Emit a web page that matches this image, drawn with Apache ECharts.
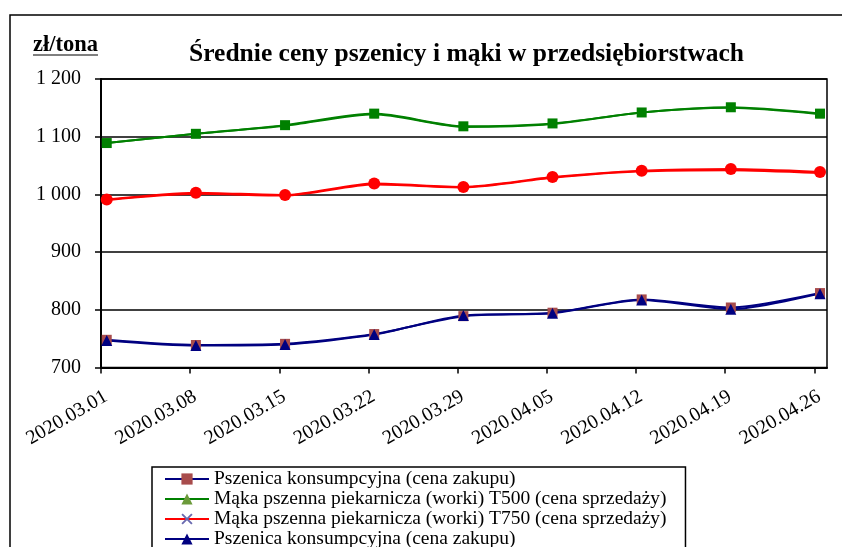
<!DOCTYPE html>
<html>
<head>
<meta charset="utf-8">
<script src="https://cdn.jsdelivr.net/npm/echarts@6/dist/echarts.min.js"></script>
<style>html,body{margin:0;padding:0;background:#fff;}#c{width:842px;height:547px;}</style>
</head>
<body>
<div id="c"></div>
<script>
// ---- data ----
const dates = ['2020.03.01','2020.03.08','2020.03.15','2020.03.22','2020.03.29','2020.04.05','2020.04.12','2020.04.19','2020.04.26'];
const yTicks = [700, 800, 900, 1000, 1100, 1200];
const pszenicaA = [748, 739, 741, 758, 789, 795, 818, 804, 829];
const makaT500A = [1089, 1105, 1119, 1139, 1117, 1122, 1142, 1150, 1139];
const makaT750A = [990, 1001, 998, 1017, 1012, 1029, 1040, 1042, 1037];
const pszenicaB = [747, 738, 740, 757, 790, 794, 817, 801, 828];
const makaT500B = [1089, 1105, 1120, 1140, 1118, 1123, 1142, 1151, 1140];
const makaT750B = [991, 1003, 999, 1019, 1013, 1030, 1041, 1044, 1039];

const nameP = 'Pszenica konsumpcyjna (cena zakupu)';
const name500 = 'Mąka pszenna piekarnicza (worki) T500 (cena sprzedaży)';
const name750 = 'Mąka pszenna piekarnicza (worki) T750 (cena sprzedaży)';

const DAY = 864e5;
const t0 = Date.parse(dates[0].replace(/\./g, '-'));
const dayOf = d => (Date.parse(d.replace(/\./g, '-')) - t0) / DAY;
const tickDays = dates.map(dayOf);
const labelByDay = {};
dates.forEach(d => { labelByDay[dayOf(d)] = d; });
const CENTER = 0.45; // points sit in the middle of their day slot (date axis)
const pts = vals => vals.map((v, i) => [dayOf(dates[i]) + CENTER, v]);

const serif = '"Liberation Serif", "Times New Roman", serif';
const xShape = 'path://M0,1.2L1.2,0L5,3.8L8.8,0L10,1.2L6.2,5L10,8.8L8.8,10L5,6.2L1.2,10L0,8.8L3.8,5Z';

function line(name, vals, lineColor, symbol, symColor, size) {
  return {
    type: 'line', name: name, data: pts(vals), smooth: 0.25,
    symbol: symbol, symbolSize: size, showSymbol: true,
    lineStyle: { color: lineColor, width: 2 },
    itemStyle: { color: symColor },
    emphasis: { disabled: true }
  };
}

const chart = echarts.init(document.getElementById('c'), null, { renderer: 'canvas' });
chart.setOption({
  animation: false,
  backgroundColor: '#fff',
  graphic: [
    { type: 'rect', shape: { x: 10, y: 15, width: 1000, height: 1000 }, style: { fill: 'none', stroke: '#000', lineWidth: 1.5 }, z: -1 },
    { type: 'text', style: { text: 'Średnie ceny pszenicy i mąki w przedsiębiorstwach', x: 466.5, y: 54, align: 'center', verticalAlign: 'middle', font: 'bold 25.5px ' + serif, fill: '#000' } },
    { type: 'text', style: { text: 'zł/tona', x: 33, y: 45.5, align: 'left', verticalAlign: 'middle', font: 'bold 22.5px ' + serif, fill: '#000' } },
    { type: 'line', shape: { x1: 33, y1: 55, x2: 98, y2: 55 }, style: { stroke: '#000', lineWidth: 1.2 } }
  ],
  grid: { left: 101, right: 15, top: 79, bottom: 179.5, show: true, borderColor: '#000', borderWidth: 1.5, backgroundColor: '#fff' },
  xAxis: {
    type: 'value', min: 0, max: 57, interval: 7,
    axisLine: { show: true, onZero: false, lineStyle: { color: '#000', width: 2 } },
    axisTick: { show: true, length: 6, lineStyle: { color: '#000', width: 1.5 }, customValues: tickDays },
    axisLabel: { customValues: tickDays, rotate: 30, margin: 19, verticalAlign: 'top', color: '#000', fontFamily: serif, fontSize: 20,
      formatter: v => labelByDay[v] || '' },
    splitLine: { show: false }
  },
  yAxis: {
    type: 'value', min: yTicks[0], max: yTicks[yTicks.length - 1], interval: 100,
    axisLine: { show: true, lineStyle: { color: '#000', width: 2 } },
    axisTick: { show: true, length: 6, lineStyle: { color: '#000', width: 1.5 } },
    axisLabel: { margin: 20, color: '#000', fontFamily: serif, fontSize: 20,
      formatter: v => String(v).replace(/\B(?=(\d{3})+(?!\d))/g, ' ') },
    splitLine: { show: true, lineStyle: { color: '#000', width: 1.5 } }
  },
  legend: {
    orient: 'vertical', left: 152, top: 467, height: 400,
    padding: [2, 14, 6, 12],
    borderColor: '#000', borderWidth: 1.5, backgroundColor: '#fff',
    itemWidth: 44, itemHeight: 14, itemGap: 0,
    textStyle: { fontFamily: serif, fontSize: 19.5, color: '#000', lineHeight: 17 },
    selectedMode: false
  },
  series: [
    line(nameP, pszenicaA, '#000080', 'rect', '#A84C4C', 10),
    line(name500, makaT500A, '#008000', 'triangle', '#6B9A3A', 8),
    line(name750, makaT750A, '#FF0000', xShape, '#6A6AB0', 8),
    line(nameP + ' ', pszenicaB, '#000080', 'triangle', '#000080', 11),
    line(name500 + ' ', makaT500B, '#008000', 'rect', '#008000', 10),
    line(name750 + ' ', makaT750B, '#FF0000', 'circle', '#FF0000', 12)
  ]
});
</script>
</body>
</html>
